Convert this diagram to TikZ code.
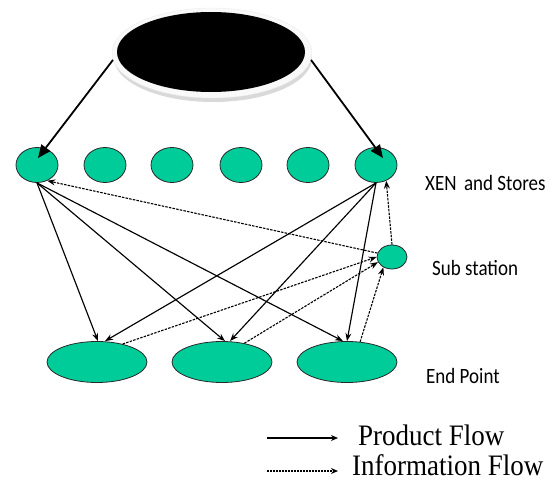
\documentclass[tikz,border=0pt]{standalone}
\usepackage{fontspec}
\usetikzlibrary{shapes.geometric,arrows.meta}
\newfontfamily\labelfont{Carlito}
\newfontfamily\legendfont{Liberation Serif}
\definecolor{nodegreen}{RGB}{0,204,153}
\definecolor{nodeline}{RGB}{40,40,40}

\tikzset{
  station/.style={ellipse, draw=nodeline, fill=nodegreen, line width=0.8pt, inner sep=0pt},
  prod/.style={line width=1.15pt, -{Stealth[length=8pt,width=6pt]}},
  info/.style={line width=1.1pt, dash pattern=on 2.5pt off 1.2pt, -{Stealth[length=8pt,width=6pt]}},
  feed/.style={line width=1.8pt, -{Triangle[length=13pt,width=11pt]}},
  tag/.style={anchor=base west, inner sep=0pt, font=\labelfont\fontsize{19}{19}\selectfont},
  legtext/.style={anchor=base west, inner sep=0pt, font=\legendfont\fontsize{27}{27}\selectfont}
}

\begin{document}
\begin{tikzpicture}[x=1pt,y=-1pt]
\useasboundingbox (0,0) rectangle (557,482);

% source: black disc on a pale rim with a soft shadow beneath
\fill[gray!30] (213,58) ellipse [x radius=99pt, y radius=44pt];
\node[ellipse, fill=gray!5, draw=gray!15, minimum width=200pt, minimum height=90pt, inner sep=0pt] (src) at (212,53) {};
\node[ellipse, fill=black, minimum width=188pt, minimum height=80pt, inner sep=0pt] (core) at (211,52) {};

% XEN and stores row
\foreach \i/\x in {1/37,2/105,3/172,4/241,5/308,6/376}
  \node[station, minimum width=42pt, minimum height=35pt] (xen\i) at (\x,165) {};

% sub station
\node[station, minimum width=30pt, minimum height=24pt] (sub) at (392,257) {};

% end points
\foreach \i/\x in {1/97,2/222,3/347}
  \node[station, minimum width=100pt, minimum height=41pt] (ep\i) at (\x,362) {};

% feed from the source
\draw[feed] (src.184) -- ([xshift=1pt,yshift=7pt]xen1.center);
\draw[feed] (src.-4) -- ([xshift=7pt,yshift=7pt]xen6.center);

% product flow
\draw[prod] (xen1.south) -- ([xshift=1pt]ep1.north);
\draw[prod] (xen1.south) -- ([xshift=3pt]ep2.north);
\draw[prod] (xen1.south) -- ([xshift=-4pt]ep3.north);
\draw[prod] (xen6.south) -- ([xshift=8pt]ep1.north);
\draw[prod] (xen6.south) -- ([xshift=8pt]ep2.north);
\draw[prod] (xen6.south) -- (ep3.north);

% information flow
\draw[info] (ep1.35) -- (sub.west);
\draw[info] (ep2.40) -- (sub.200);
\draw[info] (ep3.57) -- (sub.230);
\draw[info] (sub.north) -- (xen6.-57);
\draw[info] (sub.165) -- (xen1.-57);

% row labels
\node[tag] (ltop) at (425,190) {\scalebox{1}[1.15]{XEN\, and Stores}};
\node[tag] (lsub) at (432,275) {\scalebox{1}[1.15]{Sub station}};
\node[tag] (lend) at (426,383) {\scalebox{1}[1.15]{End Point}};

% legend
\coordinate (pa) at (267,438);
\coordinate (pb) at (338,438);
\coordinate (ia) at (267,471);
\coordinate (ib) at (338,471);
\draw[line width=1.4pt, -{Stealth[length=7pt,width=6pt]}] (pa) -- (pb);
\draw[line width=1.2pt, dash pattern=on 2pt off 1pt, -{Stealth[length=7pt,width=6pt]}] (ia) -- (ib);
\node[legtext] (lprod) at (358,445) {\scalebox{1}[1.1]{Product Flow}};
\node[legtext] (linfo) at (352,475) {\scalebox{1}[1.1]{Information Flow}};
\end{tikzpicture}
\end{document}
